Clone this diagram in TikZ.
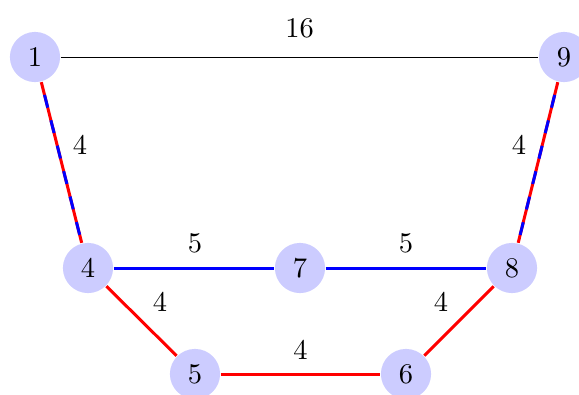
\documentclass[tikz,border=0pt]{standalone}
\begin{document}
\begin{tikzpicture}[x=0.35088pt,y=-0.35088pt,
  vertex/.style={circle,fill=blue!20,minimum size=17.6pt,inner sep=0pt,outer sep=0.3pt},
  lbl/.style={midway,inner sep=0pt},
  redline/.style={red,line width=1.05pt},
  blueline/.style={blue,line width=1.05pt},
  bluedash/.style={blue,line width=1.05pt,dash pattern=on 4.6pt off 4.6pt,dash phase=4.6pt}]
\useasboundingbox (0,0) rectangle (579,394);
\node[vertex] (n1) at (35,57) {1};
\node[vertex] (n9) at (564,57) {9};
\node[vertex] (n4) at (88,268) {4};
\node[vertex] (n7) at (300,268) {7};
\node[vertex] (n8) at (512,268) {8};
\node[vertex] (n5) at (195,374) {5};
\node[vertex] (n6) at (406,374) {6};
\draw[black,line width=0.35pt] (n1) -- node[lbl,shift={(0,-29)}] {16} (n9);
\draw[redline] (n1) -- node[lbl,black,shift={(18.5,-17.5)}] {4} (n4);
\draw[bluedash] (n1) -- (n4);
\draw[redline] (n9) -- node[lbl,black,shift={(-19,-17.5)}] {4} (n8);
\draw[bluedash] (n9) -- (n8);
\draw[blueline] (n4) -- node[lbl,black,shift={(1,-25)}] {5} (n7);
\draw[blueline] (n7) -- node[lbl,black,shift={(0,-25)}] {5} (n8);
\draw[redline] (n4) -- node[lbl,black,shift={(18.5,-19)}] {4} (n5);
\draw[redline] (n8) -- node[lbl,black,shift={(-18,-19)}] {4} (n6);
\draw[redline] (n5) -- node[lbl,black,shift={(0,-24)}] {4} (n6);
\end{tikzpicture}
\end{document}
